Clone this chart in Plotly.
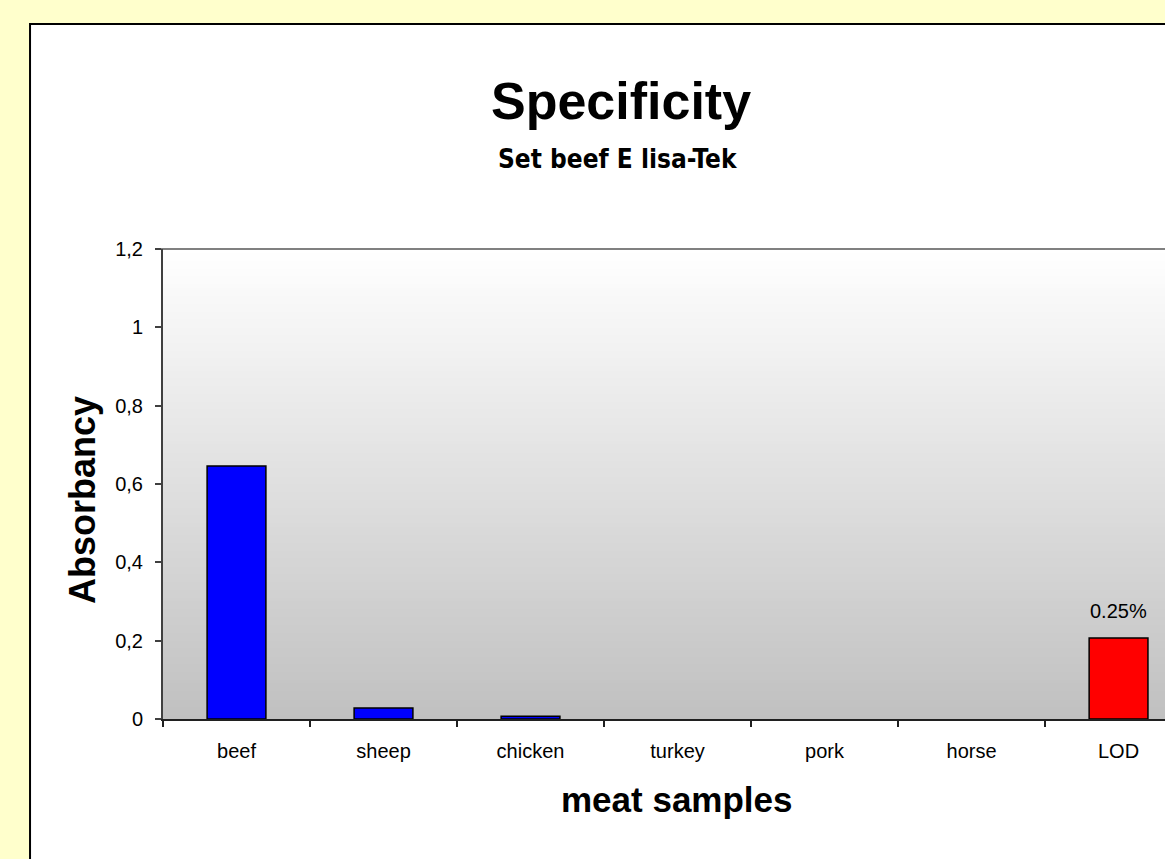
import plotly.graph_objects as go

# Absorbance readings per meat sample
samples = ["beef", "sheep", "chicken", "turkey", "pork", "horse", "LOD"]
absorbancy = [0.646, 0.028, 0.007, 0.0, 0.0, 0.0, 0.207]
bar_colors = ["#0000FF", "#0000FF", "#0000FF", "#0000FF", "#0000FF", "#0000FF", "#FF0000"]
lod_label = "0.25%"

y_ticks = [0, 0.2, 0.4, 0.6, 0.8, 1.0, 1.2]

FONT = "Arial, Liberation Sans, sans-serif"

# no outline on empty bars
outline_widths = [1.5 if v > 0 else 0 for v in absorbancy]

fig = go.Figure()
fig.add_trace(go.Bar(
    x=samples,
    y=absorbancy,
    width=0.4,
    marker=dict(color=bar_colors, line=dict(color="black", width=outline_widths)),
    hoverinfo="x+y",
))

shapes = []
# white chart area with black frame
shapes.append(dict(type="rect", xref="paper", yref="paper",
                   x0=-0.1327, x1=1.3, y0=-0.7, y1=1.4787,
                   fillcolor="white", line=dict(color="black", width=2),
                   layer="below"))
# vertical gradient in the plot area: white at top to grey at bottom
n_bands = 120
for i in range(n_bands):
    t = i / n_bands
    v = int(round(255 - (255 - 192) * (1 - t - 0.5 / n_bands)))
    shapes.append(dict(type="rect", xref="paper", yref="paper",
                       x0=0, x1=1.05, y0=t, y1=t + 1.0 / n_bands + 0.002,
                       fillcolor=f"rgb({v},{v},{v})", line=dict(width=0),
                       layer="below"))
# grey top border of plot area
shapes.append(dict(type="line", xref="paper", yref="paper",
                   x0=-0.006, x1=1.05, y0=1, y1=1,
                   line=dict(color="#808080", width=2), layer="below"))

annotations = [
    dict(text="<b>Specificity</b>", xref="paper", yref="paper",
         x=0.457, y=1.314, showarrow=False, xanchor="center", yanchor="middle",
         font=dict(family=FONT, size=52, color="black")),
    dict(text="<b>Set beef E lisa-Tek</b>", xref="paper", yref="paper",
         x=0.454, y=1.192, showarrow=False, xanchor="center", yanchor="middle",
         font=dict(family="Liberation Sans Narrow, DejaVu Sans Condensed, Arial Narrow, sans-serif",
                   size=26, color="black")),
    dict(text="<b>meat samples</b>", xref="paper", yref="paper",
         x=0.513, y=-0.172, showarrow=False, xanchor="center", yanchor="middle",
         font=dict(family=FONT, size=35, color="black")),
    dict(text="<b>Absorbancy</b>", xref="paper", yref="paper",
         x=-0.0798, y=0.466, showarrow=False, xanchor="center", yanchor="middle",
         textangle=-90, font=dict(family=FONT, size=36, color="black")),
    dict(text=lod_label, x=samples[-1], y=absorbancy[-1], xref="x", yref="y",
         showarrow=False, xanchor="center", yanchor="bottom", yshift=14,
         font=dict(family=FONT, size=20, color="black")),
]

fig.update_layout(
    width=1165, height=859,
    margin=dict(l=163, r=0, t=249, b=140, pad=0),
    paper_bgcolor="#FFFFCC",
    plot_bgcolor="rgba(0,0,0,0)",
    separators=",.",
    showlegend=False,
    bargap=0.6,
    shapes=shapes,
    annotations=annotations,
    font=dict(family=FONT, size=20, color="black"),
)

fig.update_xaxes(
    type="category",
    range=[-0.5, 6.316],
    showgrid=False, zeroline=False,
    showline=True, linecolor="#202020", linewidth=2,
    ticks="outside", tickson="boundaries", ticklen=6, tickwidth=1.5, tickcolor="#202020",
    tickfont=dict(family=FONT, size=20, color="black"),
    ticklabelstandoff=13,
    fixedrange=True,
)
fig.update_yaxes(
    range=[0, 1.2],
    tickvals=y_ticks,
    showgrid=False, zeroline=False,
    showline=True, linecolor="#404040", linewidth=2,
    ticks="outside", ticklen=6, tickwidth=1.5, tickcolor="#404040",
    tickfont=dict(family=FONT, size=20, color="black"),
    ticklabelstandoff=8,
    fixedrange=True,
)

fig.write_html("out.html")
